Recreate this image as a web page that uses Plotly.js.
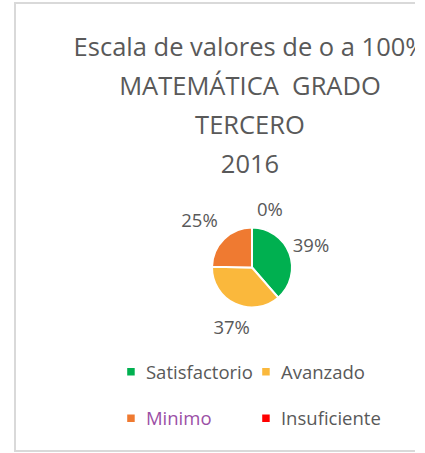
<!DOCTYPE html>
<html>
<head>
<meta charset="utf-8">
<script src="https://cdn.plot.ly/plotly-3.0.1.min.js"></script>
<style>
  html, body { margin:0; padding:0; background:#ffffff; overflow:hidden; }
  #clip { position:absolute; left:0; top:0; width:415px; height:453px; overflow:hidden; }
  #frame { position:absolute; left:14px; top:2px; width:480px; height:450px; border:2px solid #d9d9d9; border-right:none; box-sizing:border-box; }
  #chart { position:absolute; left:14px; top:0; width:472px; height:453px; }
  #chart path.textline { stroke: transparent !important; }
  #chart g.legend { translate: 25px 0; }
  #chart .legend .scrollbox { clip-path: none !important; }
  #chart .legend path.legendpie { translate: 10px 0; scale: 0.75; transform-box: fill-box; transform-origin: center; }
  /* nudge outside labels toward the reference's label placement */
  #chart g.slice:nth-child(1) g.slicetext { translate: -3px -7px; }
  #chart g.slice:nth-child(2) g.slicetext { translate: 21px 12px; }
  #chart g.slice:nth-child(3) g.slicetext { translate: 0px -13px; }
  #chart g.slice:nth-child(4) g.slicetext { translate: 37px 1px; }
</style>
</head>
<body>
<div id="clip">
  <div id="frame"></div>
  <div id="chart"></div>
</div>
<script>
// ---- data ----
var titleLines = ['Escala de valores de o a 100%', 'MATEMÁTICA  GRADO', 'TERCERO', '2016'];
var categories = ['Satisfactorio', 'Avanzado', 'Minimo', 'Insuficiente'];
var percentages = [39, 37, 25, 0];
var sliceColors = ['#00B050', '#FAB83C', '#EF7A31', '#FF0000'];
var legendTextColors = ['#595959', '#595959', '#9B4FA6', '#595959'];

// ---- styled text ----
var titleText = titleLines.map(function (t) {
  return '<span style="font-size:25.5px">' + t + '</span>';
}).join('<br>');

var legendLabels = categories.map(function (c, i) {
  return '<span style="font-size:18.5px;baseline-shift:5.85px;fill:' + legendTextColors[i] + '">' + c + '</span>';
});

var trace = {
  type: 'pie',
  labels: legendLabels,
  values: percentages,
  sort: false,
  direction: 'clockwise',
  rotation: 0,
  marker: { colors: sliceColors, line: { color: '#ffffff', width: 2 } },
  texttemplate: '%{value}%',
  textposition: 'outside',
  textfont: { family: 'Open Sans', size: 18.5, color: '#595959' },
  outsidetextfont: { family: 'Open Sans', size: 18.5, color: '#595959' },
  hoverinfo: 'skip',
  domain: { x: [0.4195, 0.589], y: [0.3212, 0.4978] }
};

var layout = {
  width: 472,
  height: 453,
  margin: { l: 0, r: 0, t: 0, b: 0, pad: 0 },
  paper_bgcolor: 'rgba(0,0,0,0)',
  plot_bgcolor: 'rgba(0,0,0,0)',
  font: { family: 'Open Sans', color: '#595959' },
  title: {
    text: titleText,
    font: { family: 'Open Sans', size: 30, color: '#595959' },
    x: 0.5, xanchor: 'center', xref: 'container',
    y: 0.8763, yanchor: 'top', yref: 'container'
  },
  showlegend: true,
  legend: {
    orientation: 'h',
    x: 0.2426, xanchor: 'left',
    y: 0.242, yanchor: 'top',
    font: { family: 'Open Sans', size: 33.5, color: '#595959' },
    entrywidth: 90,
    entrywidthmode: 'pixels',
    bgcolor: 'rgba(0,0,0,0)'
  }
};

Plotly.newPlot('chart', [trace], layout, { displayModeBar: false, staticPlot: true });
</script>
</body>
</html>
